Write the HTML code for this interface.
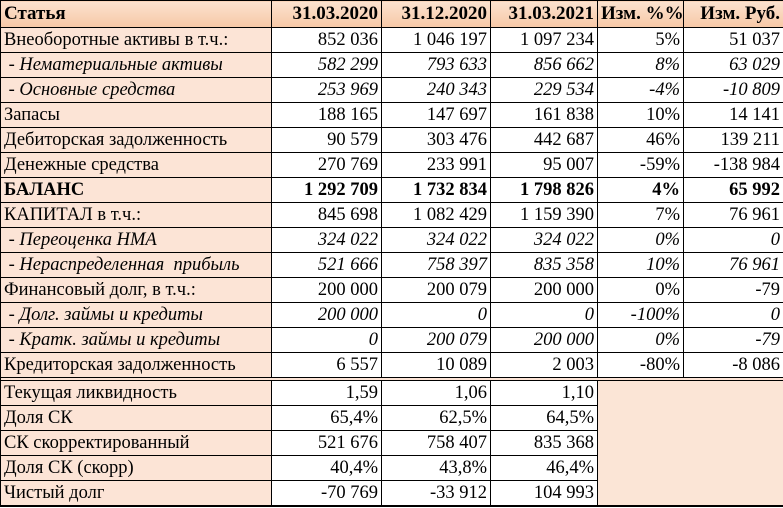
<!DOCTYPE html>
<html><head><meta charset="utf-8"><style>
body{margin:0;width:783px;height:508px;overflow:hidden;background:#fff;font-family:"Liberation Serif","Noto Serif CJK SC",serif;}
table{border-collapse:collapse;table-layout:fixed;position:absolute;left:0;top:0;width:783px;}
td{border:1px solid #000;height:24px;padding:0 3px;font-size:18.5px;line-height:24px;text-align:right;white-space:nowrap;overflow:hidden;color:#000}
td.l{text-align:left;background:#fce4d6;}
tr.h td{background:linear-gradient(#fbe2cf,#f7c8a6);font-weight:bold;height:26px;font-size:19px;}
tr.h td.l{background:linear-gradient(#fbe2cf,#f7c8a6);}
tr.i td{font-style:italic}
tr.b td{font-weight:bold}
tr.gap td{height:2px;padding:0;line-height:2px;border-top:1px solid #000;border-bottom:1px solid #000;background:#fce4d6;}
td.p{background:#fbe5d6;border-left:1px solid #000;}
tr.last td{border-bottom:2px solid #000}
</style></head><body>
<table>
<colgroup><col style="width:271px"><col style="width:110px"><col style="width:109px"><col style="width:107px"><col style="width:86px"><col style="width:100px"></colgroup>
<tr class="h"><td class="l">Статья</td><td>31.03.2020</td><td>31.12.2020</td><td>31.03.2021</td><td>Изм. %%</td><td>Изм. Руб.</td></tr>
<tr><td class="l">Внеоборотные активы в т.ч.:</td><td>852 036</td><td>1 046 197</td><td>1 097 234</td><td>5%</td><td>51 037</td></tr>
<tr class="i"><td class="l">&nbsp;- Нематериальные активы</td><td>582 299</td><td>793 633</td><td>856 662</td><td>8%</td><td>63 029</td></tr>
<tr class="i"><td class="l">&nbsp;- Основные средства</td><td>253 969</td><td>240 343</td><td>229 534</td><td>-4%</td><td>-10 809</td></tr>
<tr><td class="l">Запасы</td><td>188 165</td><td>147 697</td><td>161 838</td><td>10%</td><td>14 141</td></tr>
<tr><td class="l">Дебиторская задолженность</td><td>90 579</td><td>303 476</td><td>442 687</td><td>46%</td><td>139 211</td></tr>
<tr><td class="l">Денежные средства</td><td>270 769</td><td>233 991</td><td>95 007</td><td>-59%</td><td>-138 984</td></tr>
<tr class="b"><td class="l">БАЛАНС</td><td>1 292 709</td><td>1 732 834</td><td>1 798 826</td><td>4%</td><td>65 992</td></tr>
<tr><td class="l">КАПИТАЛ в т.ч.:</td><td>845 698</td><td>1 082 429</td><td>1 159 390</td><td>7%</td><td>76 961</td></tr>
<tr class="i"><td class="l">&nbsp;- Переоценка НМА</td><td>324 022</td><td>324 022</td><td>324 022</td><td>0%</td><td>0</td></tr>
<tr class="i"><td class="l">&nbsp;- Нераспределенная&nbsp; прибыль</td><td>521 666</td><td>758 397</td><td>835 358</td><td>10%</td><td>76 961</td></tr>
<tr><td class="l">Финансовый долг, в т.ч.:</td><td>200 000</td><td>200 079</td><td>200 000</td><td>0%</td><td>-79</td></tr>
<tr class="i"><td class="l">&nbsp;- Долг. займы и кредиты</td><td>200 000</td><td>0</td><td>0</td><td>-100%</td><td>0</td></tr>
<tr class="i"><td class="l">&nbsp;- Кратк. займы и кредиты</td><td>0</td><td>200 079</td><td>200 000</td><td>0%</td><td>-79</td></tr>
<tr><td class="l">Кредиторская задолженность</td><td>6 557</td><td>10 089</td><td>2 003</td><td>-80%</td><td>-8 086</td></tr>
<tr class="gap"><td colspan="6"></td></tr>
<tr><td class="l">Текущая ликвидность</td><td>1,59</td><td>1,06</td><td>1,10</td><td class="p" colspan="2" rowspan="5" style="border-bottom:2px solid #000"></td></tr>
<tr><td class="l">Доля СК</td><td>65,4%</td><td>62,5%</td><td>64,5%</td></tr>
<tr><td class="l">СК скорректированный</td><td>521 676</td><td>758 407</td><td>835 368</td></tr>
<tr><td class="l">Доля СК (скорр)</td><td>40,4%</td><td>43,8%</td><td>46,4%</td></tr>
<tr class="last"><td class="l">Чистый долг</td><td>-70 769</td><td>-33 912</td><td>104 993</td></tr>
</table>
</body></html>
